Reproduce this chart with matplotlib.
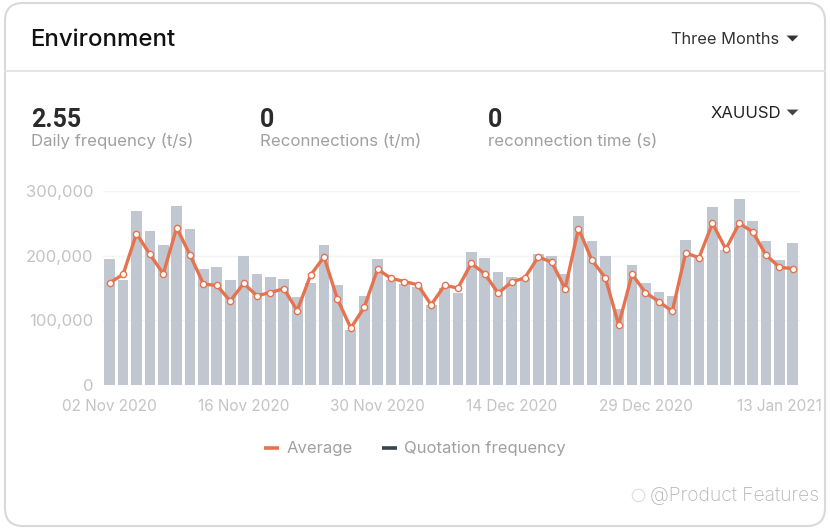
import matplotlib
matplotlib.use("Agg")
import matplotlib.pyplot as plt
from matplotlib.lines import Line2D
from matplotlib.patches import FancyBboxPatch

# --- CONFIG ---
WIDTH = 830
HEIGHT = 528
BAR_COLOR = "#c0c7d0"
LINE_COLOR = "#e6734f"
GREY_TEXT = "#a0a0a0"
TRIANGLE = [(-1, 0.5), (1, 0.5), (0, -0.5)]  # flat dropdown arrow

# values, in thousands
QUOTATIONS = [195, 162, 269, 238, 216, 277, 241, 180, 183, 162, 199, 172, 167,
              164, 136, 157, 217, 155, 85, 137, 195, 162, 156, 152, 123, 150,
              142, 205, 196, 175, 167, 166, 203, 199, 171, 262, 222, 199, 118,
              185, 157, 144, 137, 224, 197, 275, 208, 287, 253, 222, 194, 220]
AVERAGE = [158, 171, 234, 202, 172, 243, 201, 156, 154, 130, 157, 138, 143,
           149, 115, 170, 198, 133, 88, 120, 179, 165, 160, 155, 124, 154,
           150, 188, 172, 142, 159, 166, 198, 190, 149, 242, 193, 166, 93,
           171, 143, 129, 114, 204, 197, 250, 210, 250, 237, 201, 182, 180]
DATE_TICKS = {0: "02 Nov 2020", 10: "16 Nov 2020", 20: "30 Nov 2020",
              30: "14 Dec 2020", 40: "29 Dec 2020", 50: "13 Jan 2021"}


def label(x, y, text, **kwargs):
    """Put a text on the figure, position given in pixels from the top left."""
    plt.figtext(x / WIDTH, 1 - y / HEIGHT, text, va="center", **kwargs)


def arrow(x, y, color):
    plt.gcf().add_artist(Line2D([x / WIDTH], [1 - y / HEIGHT], marker=TRIANGLE, markersize=8.5,
                                color=color, markeredgewidth=0))


def draw_card():
    fig = plt.gcf()
    # transform=None means the box is given in pixels
    card = FancyBboxPatch((5, 2), 820, 523, boxstyle="round,pad=0,rounding_size=18",
                          transform=None, facecolor="white", edgecolor="#d9d9d9",
                          linewidth=1.5, zorder=-2)
    fig.add_artist(card)
    fig.add_artist(Line2D([5 / WIDTH, 825 / WIDTH], [1 - 71 / HEIGHT, 1 - 71 / HEIGHT],
                          color="#e2e2e2", linewidth=1.3, zorder=-1))


def draw_texts():
    label(30.5, 39.5, "Environment", fontsize=17.3, fontweight="medium", family="Inter", color="#111111")
    label(671, 40, "Three Months", fontsize=11.8, family="Inter", color="#333333")
    arrow(792, 38, "#333333")
    label(711, 114, "XAUUSD", fontsize=12, family="Inter", color="#222222")
    arrow(792, 112, "#444444")

    label(31, 120, "2.55", fontsize=18, fontweight="bold", family="Roboto", color="#2b2b2b")
    label(260, 120, "0", fontsize=18, fontweight="bold", family="Roboto", color="#2b2b2b")
    label(488, 120, "0", fontsize=18, fontweight="bold", family="Roboto", color="#2b2b2b")
    label(31, 141, "Daily frequency (t/s)", fontsize=12.1, family="Inter", color=GREY_TEXT)
    label(260, 141, "Reconnections (t/m)", fontsize=12.1, family="Inter", color=GREY_TEXT)
    label(488, 141, "reconnection time (s)", fontsize=12.1, family="Inter", color=GREY_TEXT)

    label(650, 496, "@Product Features", fontsize=13.9, fontweight="light", family="Inter", color="#b5b5b5")
    plt.gcf().add_artist(Line2D([638 / WIDTH], [1 - 495 / HEIGHT], marker="o", markersize=9,
                                markerfacecolor="none", markeredgecolor="#dddddd", markeredgewidth=0.8))


def draw_chart():
    x = list(range(len(QUOTATIONS)))

    plt.axes([103 / WIDTH, 1 - 385 / HEIGHT, 696.5 / WIDTH, 194 / HEIGHT], facecolor="none")
    plt.bar(x, [v * 1000 for v in QUOTATIONS], width=0.8, color=BAR_COLOR, zorder=2)
    plt.plot(x, [v * 1000 for v in AVERAGE], color=LINE_COLOR, linewidth=2.4, marker="o",
             markersize=4.5, markerfacecolor="white", markeredgecolor=LINE_COLOR,
             markeredgewidth=1, zorder=3)

    plt.xlim(-0.5, len(x) - 0.5)
    plt.ylim(0, 300000)
    plt.yticks([0, 100000, 200000, 300000], ["0", "100,000", "200,000", "300,000"])
    plt.xticks(list(DATE_TICKS), list(DATE_TICKS.values()))
    plt.tick_params(axis="both", length=0, labelsize=12, labelcolor="#c4c4c4")
    plt.tick_params(axis="x", pad=10, labelsize=11)
    plt.tick_params(axis="y", pad=7)
    for tick in plt.gca().get_xticklabels() + plt.gca().get_yticklabels():
        tick.set_family("Inter")
    plt.grid(True, axis="y", color="#f4f4f4", linewidth=1, zorder=0)
    for spine in plt.gca().spines.values():
        spine.set_visible(False)

    handles = [Line2D([], [], color=LINE_COLOR, linewidth=2.6, solid_capstyle="butt"),
               Line2D([], [], color="#37474f", linewidth=2.6, solid_capstyle="butt")]
    plt.figlegend(handles, ["Average", "Quotation frequency"], loc="center",
                  bbox_to_anchor=(415 / WIDTH, 1 - 449 / HEIGHT), ncol=2, frameon=False,
                  prop={"family": "Inter", "size": 12}, labelcolor="#a0a0a0",
                  handlelength=0.9, handletextpad=0.42, columnspacing=1.75)


def main():
    plt.figure(figsize=(WIDTH / 100, HEIGHT / 100), dpi=100)
    draw_card()
    draw_texts()
    draw_chart()
    plt.savefig("out.png", dpi=100)


if __name__ == "__main__":
    main()
